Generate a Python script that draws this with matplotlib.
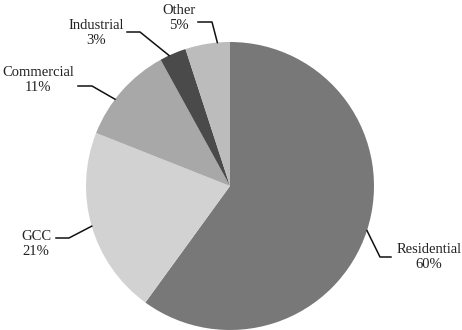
import numpy as np
import matplotlib
matplotlib.use("Agg")
import matplotlib.pyplot as plt
from matplotlib.lines import Line2D

categories = ["Residential", "GCC", "Commercial", "Industrial", "Other"]
shares = [60, 21, 11, 3, 5]
pct_labels = ["60%", "21%", "11%", "3%", "5%"]

colors = ["#787878", "#d2d2d2", "#a8a8a8", "#4a4a4a", "#bcbcbc"]
# layout (image pixels, top-left origin): text anchor, elbow, leader position in wedge
text_pos = [(429, 257), (36, 244), (38, 80), (96, 33), (179, 18)]
elbow_a = [(391, 257), (56, 238), (78, 86), (127, 32), (198, 22)]
elbow_b = [(380, 257), (69, 238), (92, 86), (140, 32), (212, 22)]
leader_frac = [0.5, 0.5, 0.39, 0.35, 0.72]

W, H = 462, 330
fig = plt.figure(figsize=(W / 100, H / 100), dpi=100)
cx, cy, r = 230, 186, 144
ax = fig.add_axes([(cx - r) / W, (H - cy - r) / H, 2 * r / W, 2 * r / H])
wedges, _ = ax.pie(shares, colors=colors, startangle=90, counterclock=False,
                   radius=1, wedgeprops=dict(linewidth=0))
ax.set_xlim(-1, 1)
ax.set_ylim(-1, 1)
ax.set_aspect("equal")
ax.axis("off")

def img2fig(p):
    return (p[0] / W, (H - p[1]) / H)

for w, cat, pct, tp, ea, eb, fr in zip(wedges, categories, pct_labels,
                                       text_pos, elbow_a, elbow_b, leader_frac):
    t1, t2 = w.theta1, w.theta2
    ang = np.deg2rad(t2 - fr * (t2 - t1))
    edge_data = (np.cos(ang), np.sin(ang))
    edge_disp = ax.transData.transform(edge_data)
    edge_fig = fig.transFigure.inverted().transform(edge_disp)
    pa, pb = img2fig(ea), img2fig(eb)
    fig.add_artist(Line2D([pa[0], pb[0], edge_fig[0]], [pa[1], pb[1], edge_fig[1]],
                          color="#111111", lw=1.1, transform=fig.transFigure))
    tx, ty = img2fig(tp)
    fig.text(tx, ty, f"{cat}\n{pct}", ha="center", va="center",
             family="Liberation Serif", fontsize=10.5, color="#222222",
             linespacing=1.15)

fig.savefig("out.png", dpi=100)
